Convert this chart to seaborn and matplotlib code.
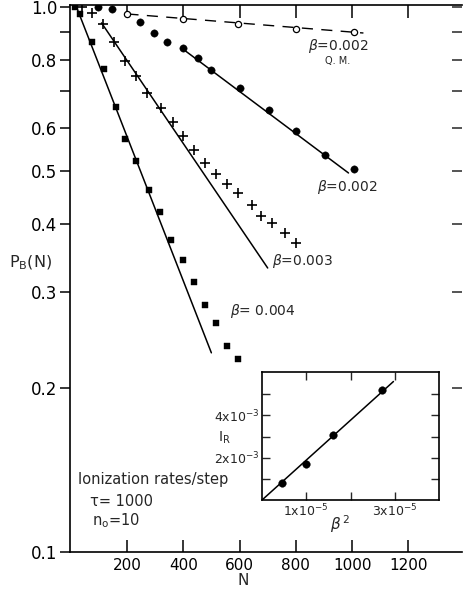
import numpy as np
import pandas as pd
import matplotlib
matplotlib.use("Agg")
import matplotlib.pyplot as plt
import matplotlib.ticker as mticker
import seaborn as sns

# ================================
# DATA
# ================================
# beta = 0.004 (filled squares)
N_b4 = [14, 33, 75, 117, 160, 195, 234, 277, 316, 355, 398, 437, 479, 518, 557, 593]
P_b4 = [1.0, 0.971, 0.863, 0.770, 0.655, 0.573, 0.522, 0.461, 0.420, 0.374,
        0.343, 0.313, 0.284, 0.263, 0.239, 0.226]
# beta = 0.003 (plus signs)
N_b3 = [39, 75, 114, 156, 195, 234, 273, 320, 362, 398, 440, 479, 518, 557,
        593, 643, 678, 714, 760, 802]
P_b3 = [1.0, 0.975, 0.931, 0.863, 0.796, 0.747, 0.695, 0.653, 0.615, 0.580,
        0.547, 0.518, 0.494, 0.473, 0.456, 0.433, 0.414, 0.401, 0.385, 0.369]
# beta = 0.002 (filled circles)
N_b2 = [99, 146, 248, 298, 344, 398, 451, 497, 603, 703, 802, 902, 1005]
P_b2 = [1.0, 0.992, 0.939, 0.896, 0.863, 0.841, 0.806, 0.766, 0.710, 0.647,
        0.592, 0.535, 0.505]
# beta = 0.002 Q.M. (open circles)
N_qm = [202, 400, 596, 802, 1005]
P_qm = [0.971, 0.951, 0.931, 0.911, 0.900]

# exponential fits (end points)
fit_b4_N, fit_b4_P = [21, 500], [1.0, 0.232]
fit_b3_N, fit_b3_P = [110, 700], [0.935, 0.332]
fit_b2_N, fit_b2_P = [398, 987], [0.838, 0.496]
fit_qm_N, fit_qm_P = [202, 1040], [0.971, 0.896]

# inset: ionization rate vs beta^2
beta2 = [0.45e-5, 0.99e-5, 1.60e-5, 2.72e-5]
I_R = [0.81e-3, 1.71e-3, 3.05e-3, 5.19e-3]
fit_in_x, fit_in_y = [0.0, 2.97e-5], [0.0, 5.6e-3]

y_ticks = [0.1, 0.2, 0.3, 0.4, 0.5, 0.6, 0.8, 1.0]
y_ticklabels = ["0.1", "0.2", "0.3", "0.4", "0.5", "0.6", "0.8", "1.0"]
y_minor = [0.7, 0.9]
x_ticks = [200, 400, 600, 800, 1000, 1200]

# ================================
# STYLE
# ================================
sns.set_style("ticks")
plt.rcParams["font.family"] = ["DejaVu Sans"]
plt.rcParams["mathtext.fontset"] = "dejavusans"
K = "black"

fig = plt.figure(figsize=(4.63, 5.90), dpi=100)
ax = fig.add_axes([0.1512, 0.0644, 0.8466, 0.9271])

# fitted lines
sns.lineplot(x=fit_b4_N, y=fit_b4_P, ax=ax, color=K, lw=1.1, estimator=None)
sns.lineplot(x=fit_b3_N, y=fit_b3_P, ax=ax, color=K, lw=1.1, estimator=None)
sns.lineplot(x=fit_b2_N, y=fit_b2_P, ax=ax, color=K, lw=1.1, estimator=None)
ax.plot(fit_qm_N, fit_qm_P, color=K, lw=1.0, dashes=(8, 6))

# data points
sns.scatterplot(x=N_b4, y=P_b4, ax=ax, marker="s", s=25, color=K,
                edgecolor=K, linewidth=0.3, zorder=3)
sns.scatterplot(x=N_b3, y=P_b3, ax=ax, marker="+", s=42, color=K,
                linewidth=1.2, zorder=3)
sns.scatterplot(x=N_b2, y=P_b2, ax=ax, marker="o", s=28, color=K,
                edgecolor=K, linewidth=0.3, zorder=3)
sns.scatterplot(x=N_qm, y=P_qm, ax=ax, marker="o", s=20, facecolor="white",
                edgecolor=K, linewidth=0.9, zorder=3)

ax.set_yscale("log")
ax.set_xlim(-2, 1390)
ax.set_ylim(0.1, 1.0085)
ax.yaxis.set_major_locator(mticker.FixedLocator(y_ticks))
ax.yaxis.set_major_formatter(mticker.FixedFormatter(y_ticklabels))
ax.yaxis.set_minor_locator(mticker.FixedLocator(y_minor))
ax.yaxis.set_minor_formatter(mticker.NullFormatter())
ax.set_xticks(x_ticks)
ax.set_xticklabels([str(v) for v in x_ticks])
ax.xaxis.set_minor_locator(mticker.NullLocator())

ax.tick_params(axis="y", which="both", direction="out", length=7, width=1.1,
               labelsize=12, pad=2, right=False, colors=K)
ax.tick_params(axis="x", which="both", direction="in", length=9, width=1.1,
               labelsize=11, pad=4, top=True, colors=K)
for sp in ax.spines.values():
    sp.set_linewidth(1.2)
    sp.set_color(K)
ax.spines["right"].set_visible(False)

# right side ticks (inward)
axr = ax.twinx()
axr.set_yscale("log")
axr.set_ylim(ax.get_ylim())
axr.yaxis.set_major_locator(mticker.FixedLocator(y_ticks[1:] + y_minor))
axr.yaxis.set_major_formatter(mticker.NullFormatter())
axr.yaxis.set_minor_locator(mticker.NullLocator())
axr.tick_params(axis="y", direction="in", length=7, width=1.1)
for sp in axr.spines.values():
    sp.set_visible(False)

ax.set_xlabel("")
ax.set_ylabel("")
ax.text(-0.10, 0.528, r"P$_\mathrm{B}$(N)", transform=ax.transAxes,
        fontsize=11.5, ha="center", va="center")
ax.text(0.441, -0.053, "N", transform=ax.transAxes, fontsize=11,
        ha="center", va="center")

# curve labels
ax.text(0.607, 0.925, r"$\beta$=0.002", transform=ax.transAxes, fontsize=10,
        ha="left", va="center")
ax.text(0.684, 0.897, "Q. M.", transform=ax.transAxes, fontsize=7,
        ha="center", va="center")
ax.text(0.630, 0.667, r"$\beta$=0.002", transform=ax.transAxes, fontsize=10,
        ha="left", va="center")
ax.text(0.515, 0.532, r"$\beta$=0.003", transform=ax.transAxes, fontsize=10,
        ha="left", va="center")
ax.text(0.408, 0.441, r"$\beta$= 0.004", transform=ax.transAxes, fontsize=10,
        ha="left", va="center")

ax.text(0.020, 0.132, "Ionization rates/step", transform=ax.transAxes,
        fontsize=10.5, ha="left", va="center")
ax.text(0.051, 0.093, "τ= 1000", transform=ax.transAxes, fontsize=10.5,
        ha="left", va="center")
ax.text(0.056, 0.057, r"n$_\mathrm{o}$=10", transform=ax.transAxes,
        fontsize=10.5, ha="left", va="center")

# ================================
# INSET
# ================================
axi = fig.add_axes([0.5659, 0.1525, 0.3823, 0.2170])
sns.lineplot(x=fit_in_x, y=fit_in_y, ax=axi, color=K, lw=1.1, estimator=None)
sns.scatterplot(x=beta2, y=I_R, ax=axi, marker="o", s=30, color=K,
                edgecolor=K, linewidth=0.3, zorder=3)
axi.set_xlim(0, 4e-5)
axi.set_ylim(0, 6.05e-3)
axi.set_xticks([1e-5, 2e-5, 3e-5])
axi.set_xticklabels([r"1x10$^{-5}$", "", r"3x10$^{-5}$"])
axi.set_yticks([1e-3, 2e-3, 3e-3, 4e-3, 5e-3])
axi.set_yticklabels(["", r"2x10$^{-3}$", "", r"4x10$^{-3}$", ""])
axi.tick_params(axis="both", direction="in", length=6, width=1.0,
                labelsize=9, pad=2, top=True, right=True)
for sp in axi.spines.values():
    sp.set_linewidth(1.2)
    sp.set_color(K)
axi.set_xlabel("")
axi.set_ylabel("")
axi.text(-0.215, 0.484, r"I$_\mathrm{R}$", transform=axi.transAxes,
         fontsize=10, ha="center", va="center")
axi.text(0.44, -0.19, r"$\beta^{\,2}$", transform=axi.transAxes,
         fontsize=11, ha="center", va="center")

fig.savefig("out.png", dpi=100)
